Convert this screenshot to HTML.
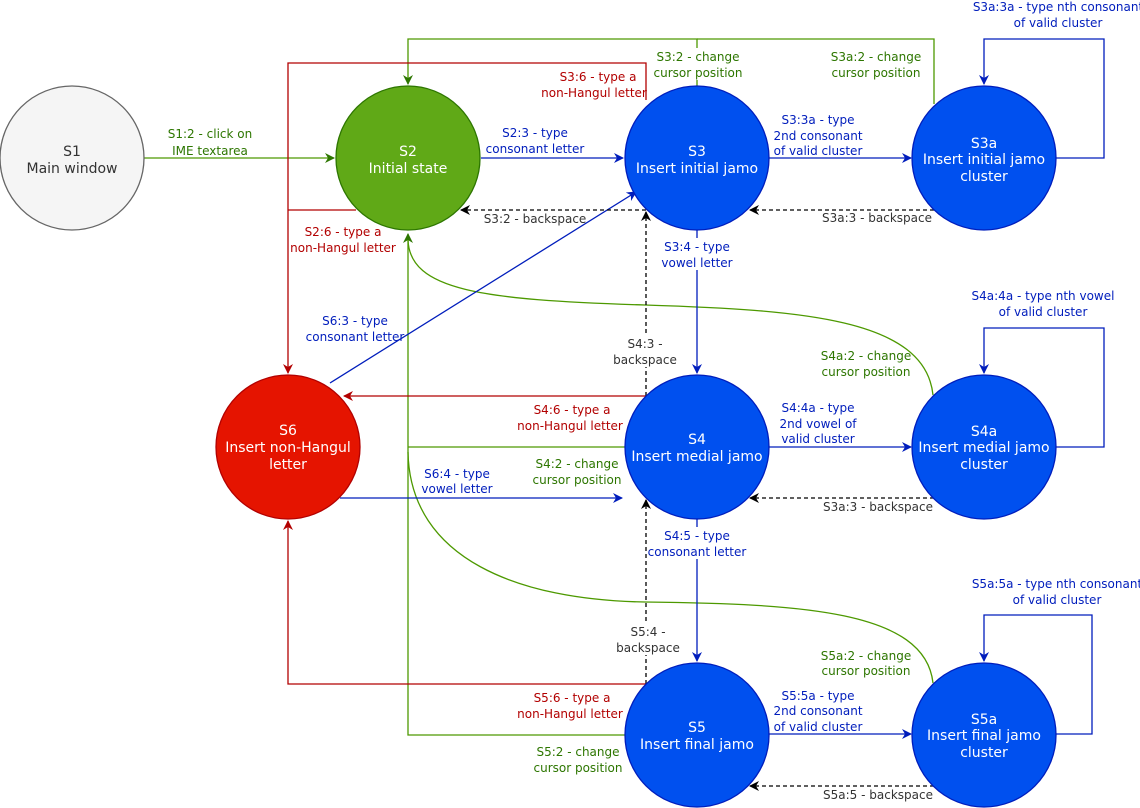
<!DOCTYPE html>
<html><head><meta charset="utf-8"><style>
html,body{margin:0;padding:0;background:#fff;}
svg{display:block;}
text{font-family:"DejaVu Sans","Liberation Sans",sans-serif;font-size:12px;text-anchor:middle;}
.n{font-size:14px;fill:#fff;}
.g{fill:#2d7600;} .r{fill:#b20000;} .b{fill:#001dbc;} .k{fill:#333;}
</style></head><body>
<svg width="1140" height="808" viewBox="0 0 1140 808" xmlns="http://www.w3.org/2000/svg">
<defs>
<marker id="ag" markerWidth="10" markerHeight="10" refX="9" refY="5" orient="auto" markerUnits="userSpaceOnUse"><path d="M0,0 L10,5 L0,10 L3,5 z" fill="#2d7600"/></marker>
<marker id="ar" markerWidth="10" markerHeight="10" refX="9" refY="5" orient="auto" markerUnits="userSpaceOnUse"><path d="M0,0 L10,5 L0,10 L3,5 z" fill="#b20000"/></marker>
<marker id="ab" markerWidth="10" markerHeight="10" refX="9" refY="5" orient="auto" markerUnits="userSpaceOnUse"><path d="M0,0 L10,5 L0,10 L3,5 z" fill="#001dbc"/></marker>
<marker id="ak" markerWidth="10" markerHeight="10" refX="9" refY="5" orient="auto" markerUnits="userSpaceOnUse"><path d="M0,0 L10,5 L0,10 L3,5 z" fill="#000"/></marker>
</defs>
<g fill="none" stroke-width="1.3">
<!-- green -->
<g stroke="#4d9900">
<path d="M144,158 L334,158" marker-end="url(#ag)"/>
<path d="M697,86 L697,39 L408,39 L408,84" marker-end="url(#ag)"/>
<path d="M934,104 L934,39 L697,39"/>
<path d="M625,447 L408,447"/>
<path d="M625,735 L408,735 L408,234" marker-end="url(#ag)"/>
<path d="M933,395 C925,318 800,310 645,305 C480,300 410,290 408,240"/>
<path d="M408,452 C410,560 520,600 645,602 C800,604 925,610 933,683"/>
</g>
<!-- red -->
<g stroke="#b20000">
<path d="M646,100 L646,63 L288,63 L288,373" marker-end="url(#ar)"/>
<path d="M356,210 L288,210"/>
<path d="M646,396 L344,396" marker-end="url(#ar)"/>
<path d="M646,684 L288,684 L288,521" marker-end="url(#ar)"/>
</g>
<!-- blue -->
<g stroke="#001dbc">
<path d="M481,158 L623,158" marker-end="url(#ab)"/>
<path d="M769,158 L911,158" marker-end="url(#ab)"/>
<path d="M1056,158 L1104,158 L1104,39 L984,39 L984,84" marker-end="url(#ab)"/>
<path d="M697,230 L697,373" marker-end="url(#ab)"/>
<path d="M769,447 L911,447" marker-end="url(#ab)"/>
<path d="M1056,447 L1104,447 L1104,328 L984,328 L984,373" marker-end="url(#ab)"/>
<path d="M697,519 L697,661" marker-end="url(#ab)"/>
<path d="M769,734 L911,734" marker-end="url(#ab)"/>
<path d="M1056,734 L1092,734 L1092,615 L984,615 L984,661" marker-end="url(#ab)"/>
<path d="M330,383 L636,192" marker-end="url(#ab)"/>
<path d="M340,498 L622,498" marker-end="url(#ab)"/>
</g>
<!-- dashed -->
<g stroke="#000" stroke-dasharray="4,3">
<path d="M646,210 L461,210" marker-end="url(#ak)"/>
<path d="M934,210 L750,210" marker-end="url(#ak)"/>
<path d="M934,498 L750,498" marker-end="url(#ak)"/>
<path d="M934,786 L750,786" marker-end="url(#ak)"/>
<path d="M646,396 L646,212" marker-end="url(#ak)"/>
<path d="M646,684 L646,500" marker-end="url(#ak)"/>
</g>
</g>
<!-- nodes -->
<circle cx="72" cy="158" r="72" fill="#f5f5f5" stroke="#666" stroke-width="1.3"/>
<circle cx="408" cy="158" r="72" fill="#60a917" stroke="#2d7600" stroke-width="1.3"/>
<circle cx="697" cy="158" r="72" fill="#0050ef" stroke="#001dbc" stroke-width="1.3"/>
<circle cx="984" cy="158" r="72" fill="#0050ef" stroke="#001dbc" stroke-width="1.3"/>
<circle cx="288" cy="447" r="72" fill="#e51400" stroke="#b20000" stroke-width="1.3"/>
<circle cx="697" cy="447" r="72" fill="#0050ef" stroke="#001dbc" stroke-width="1.3"/>
<circle cx="984" cy="447" r="72" fill="#0050ef" stroke="#001dbc" stroke-width="1.3"/>
<circle cx="697" cy="735" r="72" fill="#0050ef" stroke="#001dbc" stroke-width="1.3"/>
<circle cx="984" cy="735" r="72" fill="#0050ef" stroke="#001dbc" stroke-width="1.3"/>
<text class="n" x="72" y="156" style="fill:#333">S1</text><text class="n" x="72" y="173" style="fill:#333">Main window</text>
<text class="n" x="408" y="156">S2</text><text class="n" x="408" y="173">Initial state</text>
<text class="n" x="697" y="156">S3</text><text class="n" x="697" y="173">Insert initial jamo</text>
<text class="n" x="984" y="148">S3a</text><text class="n" x="984" y="164">Insert initial jamo</text><text class="n" x="984" y="181">cluster</text>
<text class="n" x="288" y="435">S6</text><text class="n" x="288" y="452">Insert non-Hangul</text><text class="n" x="288" y="469">letter</text>
<text class="n" x="697" y="444">S4</text><text class="n" x="697" y="461">Insert medial jamo</text>
<text class="n" x="984" y="436">S4a</text><text class="n" x="984" y="452">Insert medial jamo</text><text class="n" x="984" y="469">cluster</text>
<text class="n" x="697" y="732">S5</text><text class="n" x="697" y="749">Insert final jamo</text>
<text class="n" x="984" y="724">S5a</text><text class="n" x="984" y="740">Insert final jamo</text><text class="n" x="984" y="757">cluster</text>
<!-- labels -->
<g>
<rect x="165" y="125" width="90" height="32" fill="#fff"/>
<text class="g" x="210" y="138">S1:2 - click on</text><text class="g" x="210" y="155">IME textarea</text>
<text class="b" x="535" y="137">S2:3 - type</text><text class="b" x="535" y="153">consonant letter</text>
<text class="r" x="598" y="81">S3:6 - type a</text><text class="r" x="594" y="97">non-Hangul letter</text>
<rect x="652" y="48" width="92" height="32" fill="#fff"/>
<text class="g" x="698" y="61">S3:2 - change</text><text class="g" x="698" y="77">cursor position</text>
<text class="g" x="876" y="61">S3a:2 - change</text><text class="g" x="876" y="77">cursor position</text>
<text class="b" x="1058" y="11">S3a:3a - type nth consonant</text><text class="b" x="1058" y="27">of valid cluster</text>
<text class="b" x="818" y="124">S3:3a - type</text><text class="b" x="818" y="140">2nd consonant</text><text class="b" x="818" y="155">of valid cluster</text>
<text class="k" x="535" y="223">S3:2 - backspace</text>
<text class="k" x="877" y="222">S3a:3 - backspace</text>
<text class="r" x="343" y="236">S2:6 - type a</text><text class="r" x="343" y="252">non-Hangul letter</text>
<rect x="658" y="238" width="80" height="32" fill="#fff"/>
<text class="b" x="697" y="251">S3:4 - type</text><text class="b" x="697" y="267">vowel letter</text>
<text class="b" x="355" y="325">S6:3 - type</text><text class="b" x="355" y="341">consonant letter</text>
<rect x="612" y="335" width="68" height="32" fill="#fff"/>
<text class="k" x="645" y="348">S4:3 -</text><text class="k" x="645" y="364">backspace</text>
<text class="g" x="866" y="360">S4a:2 - change</text><text class="g" x="866" y="376">cursor position</text>
<text class="b" x="1043" y="300">S4a:4a - type nth vowel</text><text class="b" x="1043" y="316">of valid cluster</text>
<text class="r" x="572" y="414">S4:6 - type a</text><text class="r" x="570" y="430">non-Hangul letter</text>
<text class="b" x="818" y="412">S4:4a - type</text><text class="b" x="818" y="428">2nd vowel of</text><text class="b" x="818" y="443">valid cluster</text>
<text class="g" x="577" y="468">S4:2 - change</text><text class="g" x="577" y="484">cursor position</text>
<text class="b" x="457" y="478">S6:4 - type</text><text class="b" x="457" y="493">vowel letter</text>
<text class="k" x="878" y="511">S3a:3 - backspace</text>
<rect x="648" y="527" width="98" height="32" fill="#fff"/>
<text class="b" x="697" y="540">S4:5 - type</text><text class="b" x="697" y="556">consonant letter</text>
<rect x="614" y="623" width="68" height="32" fill="#fff"/>
<text class="k" x="648" y="636">S5:4 -</text><text class="k" x="648" y="652">backspace</text>
<text class="g" x="866" y="660">S5a:2 - change</text><text class="g" x="866" y="675">cursor position</text>
<text class="b" x="1057" y="588">S5a:5a - type nth consonant</text><text class="b" x="1057" y="604">of valid cluster</text>
<text class="r" x="572" y="702">S5:6 - type a</text><text class="r" x="570" y="718">non-Hangul letter</text>
<text class="b" x="818" y="700">S5:5a - type</text><text class="b" x="818" y="715">2nd consonant</text><text class="b" x="818" y="731">of valid cluster</text>
<text class="g" x="578" y="756">S5:2 - change</text><text class="g" x="578" y="772">cursor position</text>
<text class="k" x="878" y="799">S5a:5 - backspace</text>
</g>
</svg>
</body></html>
